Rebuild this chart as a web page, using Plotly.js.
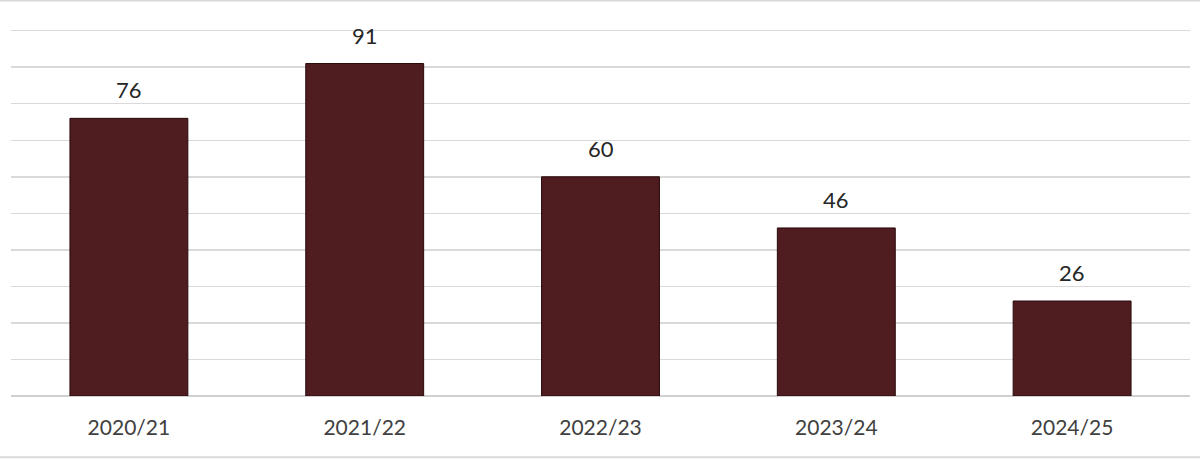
<!DOCTYPE html>
<html><head><meta charset="utf-8">
<script src="https://cdn.plot.ly/plotly-3.0.1.min.js"></script>
<style>html,body{margin:0;padding:0;background:#fff}#c{width:1200px;height:460px}</style>
</head><body><div id="c"></div>
<script>
const categories = ["2020/21","2021/22","2022/23","2023/24","2024/25"];
const values = [76, 91, 60, 46, 26];
const labels = values.map(String);

const annotations = categories.map((c, i) => ({
  x: c, y: values[i], xref: 'x', yref: 'y', text: labels[i], showarrow: false,
  yanchor: 'bottom', yshift: 13,
  font: {family: 'Lato, "Open Sans", sans-serif', size: 22, color: '#262626'}
}));

Plotly.newPlot('c', [{
  type: 'bar', x: categories, y: values,
  marker: {color: '#4F1C20', line: {color: '#2A0A0C', width: 1}},
  hoverinfo: 'none'
}], {
  width: 1200, height: 460,
  margin: {l: 11, r: 10, t: 27, b: 64},
  paper_bgcolor: '#fff', plot_bgcolor: '#fff',
  bargap: 0.5, showlegend: false,
  font: {family: 'Lato, "Open Sans", sans-serif', color: '#404040'},
  xaxis: {showline: false, ticks: 'outside', ticklen: 13, tickcolor: 'rgba(0,0,0,0)',
          tickfont: {size: 21, color: '#404040'}, showgrid: false, zeroline: false},
  yaxis: {range: [0, 101], tickvals: [0,10,20,30,40,50,60,70,80,90,100], showticklabels: false, showgrid: true,
          gridcolor: '#D9D9D9', gridwidth: 1.5, zeroline: true, zerolinecolor: '#D0D0D0', zerolinewidth: 2},
  annotations: annotations,
  shapes: [
    {type: 'line', xref: 'paper', yref: 'paper', x0: -0.01, x1: 1.01, y0: 1.072, y1: 1.072, line: {color: '#D9D9D9', width: 2}},
    {type: 'line', xref: 'paper', yref: 'paper', x0: -0.01, x1: 1.01, y0: -0.166, y1: -0.166, line: {color: '#D9D9D9', width: 2}}
  ]
}, {staticPlot: true});
</script></body></html>
